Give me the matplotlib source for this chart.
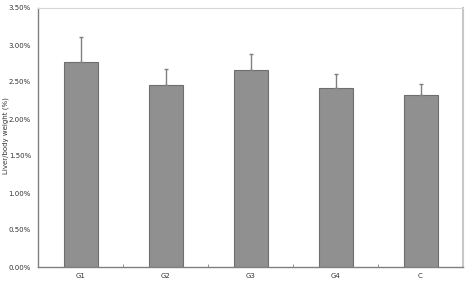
import numpy as np
import matplotlib
matplotlib.use('Agg')
import matplotlib.pyplot as plt
from matplotlib.ticker import FuncFormatter

groups = ['G1', 'G2', 'G3', 'G4', 'C']
ratio = [0.02775, 0.02455, 0.02662, 0.02423, 0.0232]
sd = [0.0033, 0.0022, 0.0021, 0.0018, 0.0015]

fig = plt.figure(figsize=(4.66, 2.81), dpi=100)
ax = fig.add_axes([38/466, 14/281, 425/466, 259/281])

x = np.arange(len(groups))
ax.bar(x, ratio, width=0.4, color='#909090', edgecolor='#6e6e6e', linewidth=0.8, zorder=2)
ax.errorbar(x, ratio, yerr=[np.zeros(len(sd)), sd], fmt='none',
            ecolor='#808080', elinewidth=1.0, capsize=1.5, capthick=1.0, zorder=3)

ax.set_xlim(-0.5, len(groups) - 0.5)
ax.set_ylim(0, 0.035)
ax.set_yticks(np.arange(0, 0.0351, 0.005))
ax.yaxis.set_major_formatter(FuncFormatter(lambda v, p: '%.2f%%' % (v * 100)))
ax.set_xticks(x)
ax.set_xticklabels(groups)
ax.set_xticks(np.arange(0.5, len(groups) - 0.5, 1), minor=True)
ax.tick_params(axis='x', which='major', length=0, pad=4, labelsize=5, labelcolor='#333333')
ax.tick_params(axis='x', which='minor', length=2, direction='in', color='#808080')
ax.tick_params(axis='y', length=0, pad=5, labelsize=5, labelcolor='#333333')
fig.text(6/466, 1 - 136/281, 'Liver/body weight (%)', fontsize=5, color='#333333',
         rotation=90, ha='center', va='center')

ax.spines['left'].set_color('#808080')
ax.spines['bottom'].set_color('#808080')
ax.spines['left'].set_linewidth(1.0)
ax.spines['bottom'].set_linewidth(1.0)
ax.spines['top'].set_color('#d8d8d8')
ax.spines['right'].set_color('#c8c8c8')
ax.spines['right'].set_linewidth(1.5)

fig.savefig('out.png', dpi=100)
